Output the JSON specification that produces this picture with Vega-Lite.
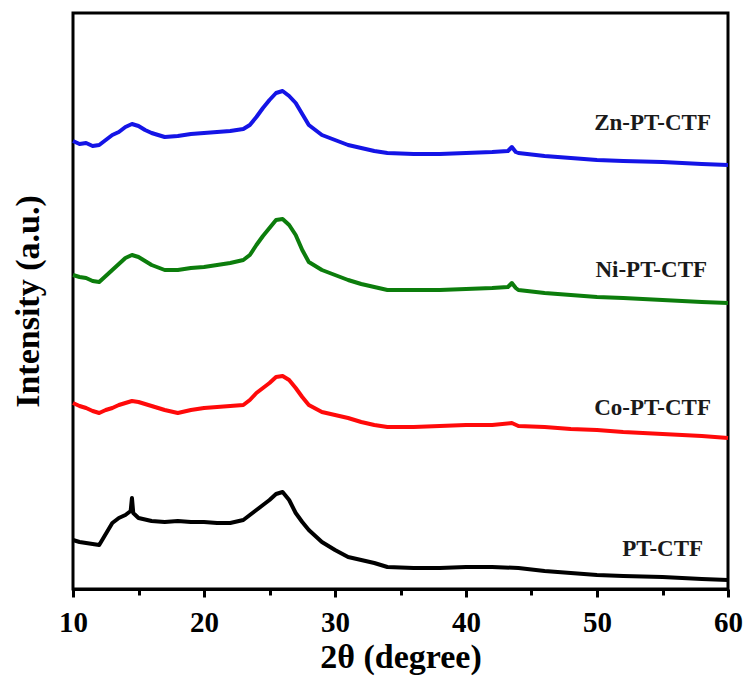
{
  "$schema": "https://vega.github.io/schema/vega-lite/v6.json",
  "autosize": {"type": "none"},
  "padding": {"left": 73, "top": 13, "right": 22, "bottom": 91},
  "width": 655,
  "height": 576,
  "background": "white",
  "config": {
    "view": {"stroke": "black", "strokeWidth": 3},
    "font": "Liberation Serif"
  },
  "datasets": {
    "xrd": [
      {"s":"Zn","x":10,"y":448},{"s":"Zn","x":10.5,"y":445},{"s":"Zn","x":11,"y":446},{"s":"Zn","x":11.5,"y":443},{"s":"Zn","x":12,"y":444},{"s":"Zn","x":12.5,"y":449},{"s":"Zn","x":13,"y":454},{"s":"Zn","x":13.5,"y":457},{"s":"Zn","x":14,"y":462},{"s":"Zn","x":14.5,"y":465},{"s":"Zn","x":15,"y":463},{"s":"Zn","x":15.5,"y":459},{"s":"Zn","x":16,"y":456},{"s":"Zn","x":17,"y":452},{"s":"Zn","x":18,"y":453},{"s":"Zn","x":19,"y":455},{"s":"Zn","x":20,"y":456},{"s":"Zn","x":21,"y":457},{"s":"Zn","x":22,"y":458},{"s":"Zn","x":23,"y":460},{"s":"Zn","x":23.5,"y":464},{"s":"Zn","x":24,"y":472},{"s":"Zn","x":24.5,"y":481},{"s":"Zn","x":25,"y":489},{"s":"Zn","x":25.5,"y":496},{"s":"Zn","x":26,"y":498},{"s":"Zn","x":26.5,"y":493},{"s":"Zn","x":27,"y":486},{"s":"Zn","x":27.5,"y":475},{"s":"Zn","x":28,"y":464},{"s":"Zn","x":29,"y":454},{"s":"Zn","x":30,"y":449},{"s":"Zn","x":31,"y":444},{"s":"Zn","x":32,"y":441},{"s":"Zn","x":33,"y":438},{"s":"Zn","x":34,"y":436},{"s":"Zn","x":36,"y":435},{"s":"Zn","x":38,"y":435},{"s":"Zn","x":40,"y":436},{"s":"Zn","x":42,"y":437},{"s":"Zn","x":43.2,"y":438},{"s":"Zn","x":43.5,"y":442},{"s":"Zn","x":43.8,"y":437},{"s":"Zn","x":44,"y":436},{"s":"Zn","x":46,"y":433},{"s":"Zn","x":48,"y":431},{"s":"Zn","x":50,"y":429},{"s":"Zn","x":52,"y":428},{"s":"Zn","x":55,"y":427},{"s":"Zn","x":58,"y":425},{"s":"Zn","x":60,"y":424},
      {"s":"Ni","x":10,"y":314},{"s":"Ni","x":10.5,"y":312},{"s":"Ni","x":11,"y":311},{"s":"Ni","x":11.5,"y":308},{"s":"Ni","x":12,"y":307},{"s":"Ni","x":12.5,"y":313},{"s":"Ni","x":13,"y":319},{"s":"Ni","x":13.5,"y":325},{"s":"Ni","x":14,"y":331},{"s":"Ni","x":14.5,"y":334},{"s":"Ni","x":15,"y":332},{"s":"Ni","x":15.5,"y":328},{"s":"Ni","x":16,"y":324},{"s":"Ni","x":17,"y":319},{"s":"Ni","x":18,"y":319},{"s":"Ni","x":19,"y":321},{"s":"Ni","x":20,"y":322},{"s":"Ni","x":21,"y":324},{"s":"Ni","x":22,"y":326},{"s":"Ni","x":23,"y":329},{"s":"Ni","x":23.5,"y":334},{"s":"Ni","x":24,"y":344},{"s":"Ni","x":24.5,"y":353},{"s":"Ni","x":25,"y":361},{"s":"Ni","x":25.5,"y":369},{"s":"Ni","x":26,"y":370},{"s":"Ni","x":26.5,"y":364},{"s":"Ni","x":27,"y":354},{"s":"Ni","x":27.5,"y":339},{"s":"Ni","x":28,"y":327},{"s":"Ni","x":29,"y":319},{"s":"Ni","x":30,"y":314},{"s":"Ni","x":31,"y":309},{"s":"Ni","x":32,"y":305},{"s":"Ni","x":33,"y":302},{"s":"Ni","x":34,"y":299},{"s":"Ni","x":36,"y":299},{"s":"Ni","x":38,"y":299},{"s":"Ni","x":40,"y":300},{"s":"Ni","x":42,"y":301},{"s":"Ni","x":43.2,"y":302},{"s":"Ni","x":43.5,"y":306},{"s":"Ni","x":43.8,"y":301},{"s":"Ni","x":44,"y":299},{"s":"Ni","x":46,"y":296},{"s":"Ni","x":48,"y":294},{"s":"Ni","x":50,"y":292},{"s":"Ni","x":52,"y":291},{"s":"Ni","x":55,"y":289},{"s":"Ni","x":58,"y":287},{"s":"Ni","x":60,"y":286},
      {"s":"Co","x":10,"y":186},{"s":"Co","x":10.5,"y":183},{"s":"Co","x":11,"y":181},{"s":"Co","x":11.5,"y":178},{"s":"Co","x":12,"y":176},{"s":"Co","x":12.5,"y":179},{"s":"Co","x":13,"y":181},{"s":"Co","x":13.5,"y":184},{"s":"Co","x":14,"y":186},{"s":"Co","x":14.5,"y":188},{"s":"Co","x":15,"y":187},{"s":"Co","x":16,"y":183},{"s":"Co","x":17,"y":179},{"s":"Co","x":18,"y":176},{"s":"Co","x":19,"y":179},{"s":"Co","x":20,"y":181},{"s":"Co","x":21,"y":182},{"s":"Co","x":22,"y":183},{"s":"Co","x":23,"y":184},{"s":"Co","x":23.5,"y":189},{"s":"Co","x":24,"y":196},{"s":"Co","x":24.5,"y":201},{"s":"Co","x":25,"y":206},{"s":"Co","x":25.5,"y":212},{"s":"Co","x":26,"y":213},{"s":"Co","x":26.5,"y":209},{"s":"Co","x":27,"y":201},{"s":"Co","x":27.5,"y":192},{"s":"Co","x":28,"y":184},{"s":"Co","x":29,"y":177},{"s":"Co","x":30,"y":174},{"s":"Co","x":31,"y":171},{"s":"Co","x":32,"y":167},{"s":"Co","x":33,"y":164},{"s":"Co","x":34,"y":162},{"s":"Co","x":36,"y":162},{"s":"Co","x":38,"y":163},{"s":"Co","x":40,"y":164},{"s":"Co","x":42,"y":164},{"s":"Co","x":43.5,"y":166},{"s":"Co","x":44,"y":163},{"s":"Co","x":46,"y":162},{"s":"Co","x":48,"y":160},{"s":"Co","x":50,"y":159},{"s":"Co","x":52,"y":157},{"s":"Co","x":55,"y":155},{"s":"Co","x":58,"y":153},{"s":"Co","x":60,"y":151},
      {"s":"PT","x":10,"y":49},{"s":"PT","x":10.5,"y":47},{"s":"PT","x":11,"y":46},{"s":"PT","x":11.5,"y":45},{"s":"PT","x":12,"y":44},{"s":"PT","x":12.5,"y":55},{"s":"PT","x":13,"y":66},{"s":"PT","x":13.5,"y":71},{"s":"PT","x":14,"y":74},{"s":"PT","x":14.4,"y":78},{"s":"PT","x":14.5,"y":91},{"s":"PT","x":14.6,"y":76},{"s":"PT","x":15,"y":71},{"s":"PT","x":16,"y":68},{"s":"PT","x":17,"y":67},{"s":"PT","x":18,"y":68},{"s":"PT","x":19,"y":67},{"s":"PT","x":20,"y":67},{"s":"PT","x":21,"y":66},{"s":"PT","x":22,"y":66},{"s":"PT","x":23,"y":69},{"s":"PT","x":23.5,"y":74},{"s":"PT","x":24,"y":79},{"s":"PT","x":24.5,"y":84},{"s":"PT","x":25,"y":89},{"s":"PT","x":25.5,"y":95},{"s":"PT","x":26,"y":97},{"s":"PT","x":26.5,"y":89},{"s":"PT","x":27,"y":76},{"s":"PT","x":27.5,"y":67},{"s":"PT","x":28,"y":59},{"s":"PT","x":29,"y":47},{"s":"PT","x":30,"y":39},{"s":"PT","x":31,"y":32},{"s":"PT","x":32,"y":29},{"s":"PT","x":33,"y":26},{"s":"PT","x":34,"y":22},{"s":"PT","x":36,"y":21},{"s":"PT","x":38,"y":21},{"s":"PT","x":40,"y":22},{"s":"PT","x":42,"y":22},{"s":"PT","x":44,"y":21},{"s":"PT","x":46,"y":18},{"s":"PT","x":48,"y":16},{"s":"PT","x":50,"y":14},{"s":"PT","x":52,"y":13},{"s":"PT","x":55,"y":12},{"s":"PT","x":58,"y":10},{"s":"PT","x":60,"y":9}
    ],
    "labels": [
      {"x":58.7,"y":466,"label":"Zn-PT-CTF"},
      {"x":58.4,"y":319,"label":"Ni-PT-CTF"},
      {"x":58.7,"y":181,"label":"Co-PT-CTF"},
      {"x":58.1,"y":40,"label":"PT-CTF"}
    ]
  },
  "layer": [
    {
      "data": {"name": "xrd"},
      "mark": {"type": "line", "strokeWidth": 4, "strokeJoin": "round"},
      "encoding": {
        "x": {
          "field": "x", "type": "quantitative",
          "scale": {"domain": [10, 60], "nice": false},
          "axis": {
            "title": "2θ (degree)",
            "values": [10, 15, 20, 25, 30, 35, 40, 45, 50, 55, 60],
            "labelExpr": "datum.value % 10 === 0 ? datum.label : ''",
            "grid": false,
            "domainColor": "black", "domainWidth": 3,
            "tickColor": "black", "tickWidth": 3,
            "tickSize": {"condition": {"test": "datum.value % 10 === 0", "value": 8}, "value": 6},
            "labelFont": "Liberation Serif", "labelFontWeight": "bold", "labelFontSize": 29, "labelColor": "black",
            "labelPadding": 11, "labelFlush": false,
            "titleFont": "Liberation Serif", "titleFontWeight": "bold", "titleFontSize": 34, "titleColor": "black",
            "titlePadding": 3
          }
        },
        "y": {
          "field": "y", "type": "quantitative",
          "scale": {"domain": [0, 576], "nice": false},
          "axis": {
            "title": "Intensity (a.u.)",
            "labels": false, "ticks": false, "domain": false, "grid": false,
            "titleFont": "Liberation Serif", "titleFontWeight": "bold", "titleFontSize": 34, "titleColor": "black",
            "titlePadding": 28
          }
        },
        "color": {
          "field": "s", "type": "nominal",
          "scale": {"domain": ["Zn", "Ni", "Co", "PT"], "range": ["#1414e6", "#0c7d0c", "#ff0a0a", "#000000"]},
          "legend": null
        },
        "detail": {"field": "s"}
      }
    },
    {
      "data": {"name": "labels"},
      "mark": {"type": "text", "align": "right", "baseline": "middle", "font": "Liberation Serif", "fontWeight": "bold", "fontSize": 23, "color": "#1a1a1a"},
      "encoding": {
        "x": {"field": "x", "type": "quantitative"},
        "y": {"field": "y", "type": "quantitative"},
        "text": {"field": "label"}
      }
    }
  ]
}
